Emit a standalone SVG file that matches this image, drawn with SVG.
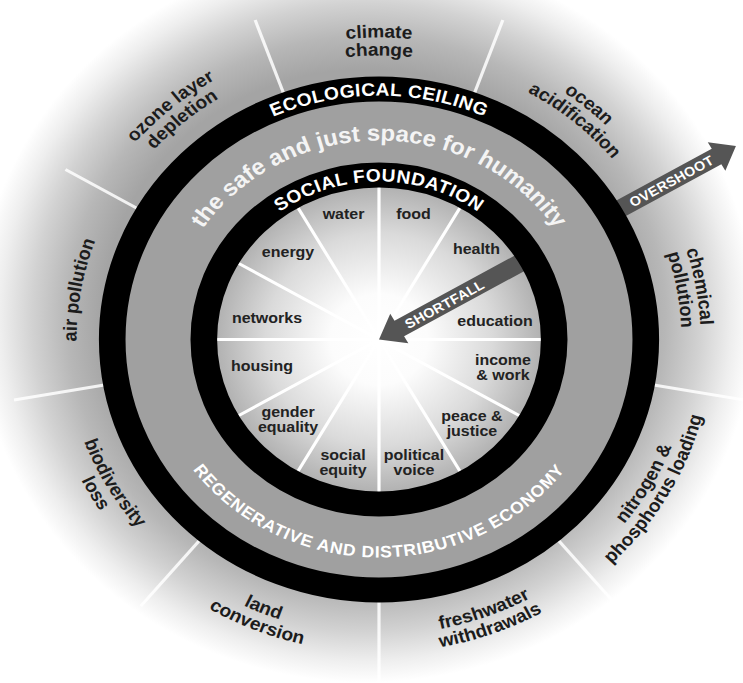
<svg xmlns="http://www.w3.org/2000/svg" width="743" height="683" viewBox="0 0 743 683">
<style>
.ol{font-family:"Liberation Sans",Arial,sans-serif;font-weight:bold;font-size:18px;fill:#1c1c1c;text-anchor:middle}
.il{font-family:"Liberation Sans",Arial,sans-serif;font-weight:bold;font-size:15px;fill:#222;text-anchor:middle}
.rt{font-family:"Liberation Sans",Arial,sans-serif;font-weight:bold;fill:#fff;text-anchor:middle}
.spk{stroke:#fff;stroke-width:3;stroke-linecap:round}
.ospk{stroke:#fff;stroke-width:3;stroke-opacity:0.85}
.arrow{fill:#555}
.ring{fill:none;stroke:#000;stroke-width:25}
</style>
<defs>
<radialGradient id="gOuter" gradientUnits="userSpaceOnUse" cx="-12" cy="-22" r="365">
<stop offset="0.68" stop-color="#a4a4a4"/>
<stop offset="0.77" stop-color="#b7b7b7"/>
<stop offset="0.86" stop-color="#d2d2d2"/>
<stop offset="0.94" stop-color="#eeeeee"/>
<stop offset="1" stop-color="#ffffff"/>
</radialGradient>
<radialGradient id="gInner" gradientUnits="userSpaceOnUse" cx="0" cy="0" r="152">
<stop offset="0" stop-color="#ffffff"/>
<stop offset="0.3" stop-color="#fcfcfc"/>
<stop offset="0.7" stop-color="#dadada"/>
<stop offset="1" stop-color="#b2b2b2"/>
</radialGradient>
<path id="aT1" d="M -302,0 A 302,302 0 0 1 302,0"/>
<path id="aT2" d="M -284,0 A 284,284 0 0 1 284,0"/>
<path id="aB1" d="M -295,0 A 295,295 0 0 0 295,0"/>
<path id="aB2" d="M -313,0 A 313,313 0 0 0 313,0"/>
<path id="aEco" d="M -244,0 A 244,244 0 0 1 244,0"/>
<path id="aSoc" d="M -158,0 A 158,158 0 0 1 158,0"/>
<path id="aSafe" d="M -199,0 A 199,199 0 0 1 199,0"/>
<path id="aReg" d="M -218,0 A 218,218 0 0 0 218,0"/>
</defs>
<rect x="0" y="0" width="743" height="683" fill="#ffffff"/>
<g transform="translate(379,339.5) scale(1.065,1)">
  <rect x="-360" y="-345" width="710" height="695" fill="url(#gOuter)"/>
  <g id="outer-spokes">
    <line class="ospk" x1="89.6" y1="-246.2" x2="116.3" y2="-319.5"/>
    <line class="ospk" x1="226.9" y1="-131" x2="294.4" y2="-170"/>
    <line class="ospk" x1="258" y1="45.5" x2="342.7" y2="60.4"/>
    <line class="ospk" x1="168.4" y1="200.7" x2="223.7" y2="266.6"/>
    <line class="ospk" x1="0" y1="262" x2="0" y2="345"/>
    <line class="ospk" x1="-168.4" y1="200.7" x2="-223.7" y2="266.6"/>
    <line class="ospk" x1="-258" y1="45.5" x2="-342.7" y2="60.4"/>
    <line class="ospk" x1="-226.9" y1="-131" x2="-294.4" y2="-170"/>
    <line class="ospk" x1="-89.6" y1="-246.2" x2="-116.3" y2="-319.5"/>
  </g>
  <circle cx="0" cy="0" r="240" fill="#a0a0a0"/>
  <circle cx="0" cy="0" r="153" fill="url(#gInner)"/>
  <g id="inner-spokes">
    <line class="spk" x1="0" y1="0" x2="0" y2="-153"/>
    <line class="spk" x1="0" y1="0" x2="76.5" y2="-132.5"/>
    <line class="spk" x1="0" y1="0" x2="132.5" y2="-76.5"/>
    <line class="spk" x1="0" y1="0" x2="153" y2="0"/>
    <line class="spk" x1="0" y1="0" x2="132.5" y2="76.5"/>
    <line class="spk" x1="0" y1="0" x2="76.5" y2="132.5"/>
    <line class="spk" x1="0" y1="0" x2="0" y2="153"/>
    <line class="spk" x1="0" y1="0" x2="-76.5" y2="132.5"/>
    <line class="spk" x1="0" y1="0" x2="-132.5" y2="76.5"/>
    <line class="spk" x1="0" y1="0" x2="-153" y2="0"/>
    <line class="spk" x1="0" y1="0" x2="-132.5" y2="-76.5"/>
    <line class="spk" x1="0" y1="0" x2="-76.5" y2="-132.5"/>
  </g>
  <g id="connectors">
    <polygon id="shortfall-arrow" class="arrow" points="0,0 27.55,3.72 23.55,-3.21 143.06,-72.21 134.06,-87.79 14.55,-18.79 10.55,-25.72"/>
    <polygon id="overshoot-arrow" class="arrow" points="335.14,-193.5 325.21,-168.71 321.46,-175.21 225.33,-119.71 216.33,-135.29 312.46,-190.79 308.71,-197.29"/>
  </g>
  <g id="social-foundation">
    <circle class="ring" cx="0" cy="0" r="164.5"/>
    <text class="rt" style="font-size:18px;letter-spacing:0.5px"><textPath href="#aSoc" startOffset="50%">SOCIAL FOUNDATION</textPath></text>
  </g>
  <g id="ecological-ceiling">
    <circle class="ring" cx="0" cy="0" r="250.5"/>
    <text class="rt" style="font-size:18px;letter-spacing:0.4px"><textPath href="#aEco" startOffset="50%">ECOLOGICAL CEILING</textPath></text>
  </g>
  <g id="safe-just-space">
    <text class="rt" style="font-size:22.5px;fill:#f4f4f4"><textPath href="#aSafe" startOffset="50%">the safe and just space for humanity</textPath></text>
  </g>
  <g id="regenerative-economy">
    <text class="rt" style="font-size:16.5px;letter-spacing:0.75px"><textPath href="#aReg" startOffset="50%">REGENERATIVE AND DISTRIBUTIVE ECONOMY</textPath></text>
  </g>
  <g id="shortfall-label">
    <text class="rt" style="font-size:13.5px;letter-spacing:0.3px" transform="rotate(-30) translate(71,5)">SHORTFALL</text>
  </g>
  <g id="overshoot-label">
    <text class="rt" style="font-size:13.5px;letter-spacing:0.3px" transform="rotate(-30) translate(317,5)">OVERSHOOT</text>
  </g>
  <g id="climate-change">
    <text class="ol"><textPath href="#aT1" startOffset="50%">climate</textPath></text>
    <text class="ol"><textPath href="#aT2" startOffset="50%">change</textPath></text>
  </g>
  <g id="ocean-acidification" transform="rotate(40)">
    <text class="ol"><textPath href="#aT1" startOffset="50%">ocean</textPath></text>
    <text class="ol"><textPath href="#aT2" startOffset="50%">acidification</textPath></text>
  </g>
  <g id="chemical-pollution" transform="rotate(80)">
    <text class="ol"><textPath href="#aT1" startOffset="50%">chemical</textPath></text>
    <text class="ol"><textPath href="#aT2" startOffset="50%">pollution</textPath></text>
  </g>
  <g id="nitrogen-phosphorus-loading" transform="rotate(-60)">
    <text class="ol"><textPath href="#aB1" startOffset="50%">nitrogen &amp;</textPath></text>
    <text class="ol"><textPath href="#aB2" startOffset="50%">phosphorus loading</textPath></text>
  </g>
  <g id="freshwater-withdrawals" transform="rotate(-20)">
    <text class="ol"><textPath href="#aB1" startOffset="50%">freshwater</textPath></text>
    <text class="ol"><textPath href="#aB2" startOffset="50%">withdrawals</textPath></text>
  </g>
  <g id="land-conversion" transform="rotate(22)">
    <text class="ol"><textPath href="#aB1" startOffset="50%">land</textPath></text>
    <text class="ol"><textPath href="#aB2" startOffset="50%">conversion</textPath></text>
  </g>
  <g id="biodiversity-loss" transform="rotate(60)">
    <text class="ol"><textPath href="#aB1" startOffset="50%">biodiversity</textPath></text>
    <text class="ol"><textPath href="#aB2" startOffset="50%">loss</textPath></text>
  </g>
  <g id="air-pollution" transform="rotate(-80)">
    <text class="ol"><textPath href="#aT2" startOffset="50%">air pollution</textPath></text>
  </g>
  <g id="ozone-layer-depletion" transform="rotate(-40)">
    <text class="ol"><textPath href="#aT1" startOffset="50%">ozone layer</textPath></text>
    <text class="ol"><textPath href="#aT2" startOffset="50%">depletion</textPath></text>
  </g>
  <g id="water"><text class="il" x="-33.3" y="-121">water</text></g>
  <g id="food"><text class="il" x="32.4" y="-121">food</text></g>
  <g id="health"><text class="il" x="91.5" y="-86">health</text></g>
  <g id="energy"><text class="il" x="-85.4" y="-83">energy</text></g>
  <g id="networks"><text class="il" x="-105.2" y="-17">networks</text></g>
  <g id="education"><text class="il" x="108.9" y="-14">education</text></g>
  <g id="housing"><text class="il" x="-109.9" y="32">housing</text></g>
  <g id="income-work"><text class="il" x="116.4" y="26">income</text><text class="il" x="116.4" y="41">&amp; work</text></g>
  <g id="gender-equality"><text class="il" x="-85.4" y="78">gender</text><text class="il" x="-85.4" y="93">equality</text></g>
  <g id="peace-justice"><text class="il" x="87.3" y="82">peace &amp;</text><text class="il" x="87.3" y="97">justice</text></g>
  <g id="social-equity"><text class="il" x="-33.8" y="121">social</text><text class="il" x="-33.8" y="136">equity</text></g>
  <g id="political-voice"><text class="il" x="32.9" y="121">political</text><text class="il" x="32.9" y="136">voice</text></g>
</g>
</svg>
